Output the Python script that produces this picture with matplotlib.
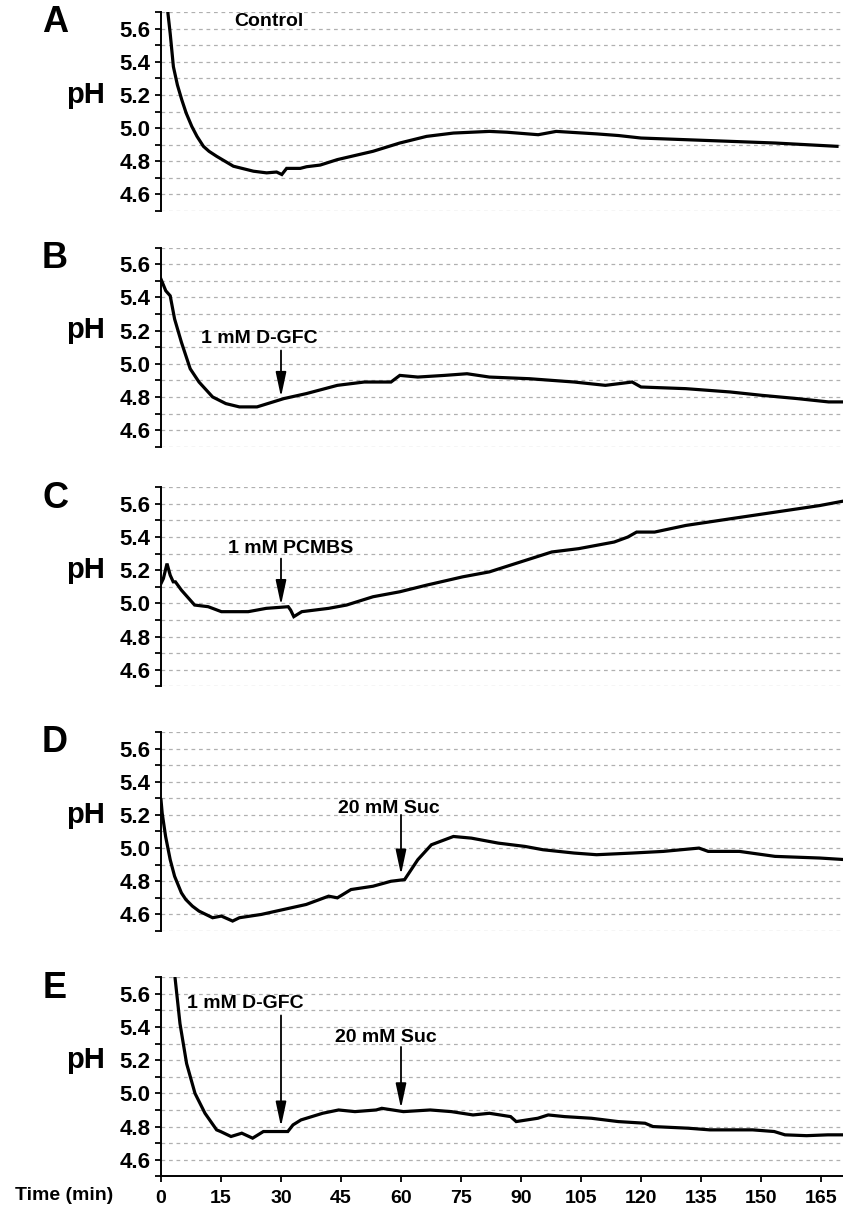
import numpy as np
import matplotlib
matplotlib.use("Agg")
import matplotlib.pyplot as plt

plt.rcParams['font.family'] = ['Liberation Sans', 'DejaVu Sans']
plt.rcParams['font.weight'] = 'bold'

# pH traces (time in min, pH)
t_a = [1.7, 2.3, 3.1, 4.1, 5.2, 6.3, 7.7, 9.0, 10.6, 12.0, 13.9, 16.0, 18.1, 23.1, 26.4,
       28.9, 30.2, 31.4, 34.8, 36.4, 39.8, 44.1, 53.0, 59.7, 66.4, 73.1, 82.1, 86.5, 94.3,
       98.8, 108.9, 114.4, 120.0, 136.8, 153.5, 169.0]
ph_a = [5.70, 5.57, 5.37, 5.26, 5.17, 5.09, 5.01, 4.95, 4.89, 4.86, 4.83, 4.80, 4.77, 4.74, 4.73,
        4.735, 4.72, 4.757, 4.757, 4.767, 4.777, 4.81, 4.86, 4.91, 4.95, 4.97, 4.98, 4.975, 4.96,
        4.98, 4.965, 4.955, 4.94, 4.925, 4.91, 4.89]

t_b = [0.0, 1.2, 2.3, 3.4, 5.1, 7.3, 9.5, 12.9, 16.2, 19.6, 24.0, 30.7, 36.3, 44.1, 50.8,
       57.5, 59.7, 64.2, 70.9, 76.5, 82.1, 92.1, 103.3, 111.1, 117.8, 120.0, 131.2, 142.3,
       150.1, 159.1, 166.9, 171.0]
ph_b = [5.51, 5.44, 5.41, 5.27, 5.13, 4.97, 4.89, 4.80, 4.76, 4.74, 4.74, 4.79, 4.82, 4.87, 4.89,
        4.89, 4.93, 4.92, 4.93, 4.94, 4.92, 4.91, 4.89, 4.87, 4.89, 4.86, 4.85, 4.83,
        4.81, 4.79, 4.77, 4.77]

t_c = [0.0, 0.6, 1.5, 2.3, 3.05, 3.6, 5.1, 7.3, 8.4, 11.8, 15.1, 21.8, 26.3, 31.8, 32.4,
       33.2, 35.2, 41.9, 46.4, 53.0, 59.7, 66.4, 75.4, 82.1, 89.9, 97.7, 104.4, 113.3,
       116.7, 118.9, 123.4, 131.2, 142.3, 153.5, 164.7, 171.3]
ph_c = [5.12, 5.15, 5.24, 5.17, 5.13, 5.13, 5.08, 5.02, 4.99, 4.98, 4.95, 4.95, 4.97, 4.98, 4.96,
        4.92, 4.95, 4.97, 4.99, 5.04, 5.07, 5.11, 5.16, 5.19, 5.25, 5.31, 5.33, 5.37,
        5.40, 5.43, 5.43, 5.47, 5.51, 5.55, 5.59, 5.62]

t_d = [0.0, 0.3, 1.15, 2.3, 3.4, 5.1, 6.2, 7.85, 9.5, 12.9, 15.1, 17.9, 19.6, 25.1, 30.7,
       36.3, 41.9, 44.1, 47.5, 53.0, 57.5, 60.9, 62.0, 64.2, 67.6, 70.9, 73.1, 77.6, 84.3,
       91.0, 95.5, 103.3, 108.9, 117.8, 125.6, 134.5, 136.8, 144.6, 153.5, 164.7, 171.3]
ph_d = [5.29, 5.21, 5.07, 4.93, 4.83, 4.73, 4.69, 4.65, 4.62, 4.58, 4.59, 4.56, 4.58, 4.60, 4.63,
        4.66, 4.71, 4.70, 4.75, 4.77, 4.80, 4.81, 4.85, 4.93, 5.02, 5.05, 5.07, 5.06, 5.03,
        5.01, 4.99, 4.97, 4.96, 4.97, 4.98, 5.00, 4.98, 4.98, 4.95, 4.94, 4.93]

t_e = [3.5, 4.75, 6.4, 8.5, 11.0, 13.9, 14.9, 17.5, 20.2, 22.9, 25.6, 29.6, 31.7, 33.0, 35.0,
       40.4, 44.4, 48.5, 53.8, 55.2, 60.6, 67.3, 72.6, 78.0, 82.1, 87.4, 88.8, 94.2, 96.8,
       100.9, 107.6, 114.3, 121.0, 123.0, 131.8, 137.2, 147.9, 153.3, 156.0, 161.4, 166.7, 170.1]
ph_e = [5.70, 5.42, 5.18, 5.00, 4.88, 4.78, 4.77, 4.74, 4.76, 4.73, 4.77, 4.77, 4.77, 4.81, 4.84,
        4.88, 4.90, 4.89, 4.90, 4.91, 4.89, 4.90, 4.89, 4.87, 4.88, 4.86, 4.83, 4.85, 4.87,
        4.86, 4.85, 4.83, 4.82, 4.80, 4.79, 4.78, 4.78, 4.77, 4.75, 4.745, 4.75, 4.75]

panel_letters = ['A', 'B', 'C', 'D', 'E']
traces = [(t_a, ph_a), (t_b, ph_b), (t_c, ph_c), (t_d, ph_d), (t_e, ph_e)]

# (label, time of addition, label x, label y, arrow start, arrow tip)
notes = [
    [('Control', None, 27, 5.645, None, None)],
    [('1 mM D-GFC', 30, 24.5, 5.15, 5.08, 4.80)],
    [('1 mM PCMBS', 30, 32.5, 5.33, 5.27, 4.99)],
    [('20 mM Suc', 60, 57, 5.24, 5.20, 4.84)],
    [('1 mM D-GFC', 30, 21, 5.54, 5.47, 4.80),
     ('20 mM Suc', 60, 56.2, 5.34, 5.28, 4.91)],
]

x_ticks = list(range(0, 166, 15))
y_major = [4.6, 4.8, 5.0, 5.2, 5.4, 5.6]
y_minor = np.round(np.arange(4.5, 5.75, 0.1), 1)

W, H = 843, 1207
fig = plt.figure(figsize=(W / 100, H / 100), dpi=100)

tops = [12, 247.7, 487.3, 732, 977.3]
ax_h = 199
left = 161

for i, (letter, (t, ph)) in enumerate(zip(panel_letters, traces)):
    top = tops[i]
    ax = fig.add_axes([left / W, 1 - (top + ax_h) / H, (W - left) / W, ax_h / H])
    ax.plot(t, ph, color='black', lw=2.3, solid_joinstyle='miter')
    ax.set_xlim(0, 170.5)
    ax.set_ylim(4.5, 5.7)

    ax.set_yticks(y_major)
    ax.set_yticklabels([f'{v:.1f}' for v in y_major], fontsize=16, fontweight='bold')
    ax.set_yticks(y_minor, minor=True)
    ax.yaxis.grid(True, which='both', linestyle=(0, (3, 3)), color='#b0b0b0', lw=0.9)
    ax.set_axisbelow(True)
    ax.tick_params(axis='y', which='both', direction='out', length=4.5, width=1.3, pad=3)

    for s in ['top', 'right']:
        ax.spines[s].set_visible(False)
    ax.spines['left'].set_linewidth(1.4)

    if i < 4:
        ax.spines['bottom'].set_visible(False)
        ax.tick_params(axis='x', bottom=False, labelbottom=False)
    else:
        ax.spines['bottom'].set_linewidth(1.4)
        ax.set_xticks(x_ticks)
        ax.set_xticklabels([str(v) for v in x_ticks], fontsize=14, fontweight='bold')
        ax.tick_params(axis='x', direction='out', length=4, width=1.3, pad=6)

    ax.set_ylabel('pH', rotation=0, fontsize=21, fontweight='bold', ha='center', va='center')
    ax.yaxis.set_label_coords(-0.11, 0.585)

    for label, t0, lx, ly, y0, y1 in notes[i]:
        ax.text(lx, ly, label, fontsize=14, fontweight='bold', ha='center', va='center')
        if t0 is not None:
            ax.annotate('', xy=(t0, y1), xytext=(t0, y0),
                        arrowprops=dict(arrowstyle='-|>,head_length=0.75,head_width=0.16',
                                        mutation_scale=20, lw=1.3, color='black',
                                        shrinkA=0, shrinkB=0))

    fig.text(55 / W, 1 - (top + 11) / H, letter, fontsize=26, fontweight='bold',
             ha='center', va='center')

fig.text(64 / W, 1 - 1196 / H, 'Time (min)', fontsize=14, fontweight='bold',
         ha='center', va='center')

fig.savefig('out.png', dpi=100)
